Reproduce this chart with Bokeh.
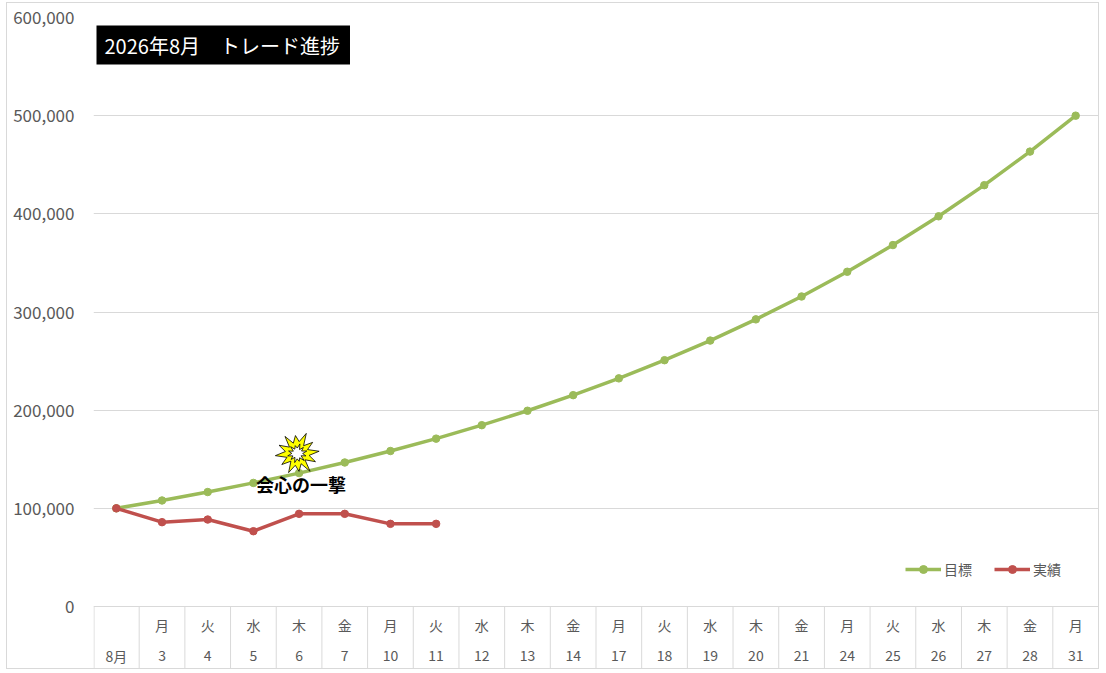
import numpy as np
from bokeh.plotting import figure
from bokeh.models import (Range1d, FixedTicker, NumeralTickFormatter,
                          Label, Legend, LegendItem, ColumnDataSource)
from bokeh.embed import file_html
from bokeh.resources import INLINE
from bokeh.core.properties import value

# ---------------- data ----------------
days = ["8月", "3", "4", "5", "6", "7", "10", "11", "12", "13", "14",
        "17", "18", "19", "20", "21", "24", "25", "26", "27", "28", "31"]
weekdays = ["", "月", "火", "水", "木", "金", "月", "火", "水", "木", "金",
            "月", "火", "水", "木", "金", "月", "火", "水", "木", "金", "月"]
target = [100000, 108000, 116600, 125900, 135900, 146700, 158400, 171000, 184700, 199400, 215300,
          232400, 250900, 270900, 292500, 315800, 341000, 368200, 397500, 429200, 463400, 500000]
actual = [100000, 85900, 88600, 76700, 94400, 94400, 84200, 84200]
y_ticks = [0, 100000, 200000, 300000, 400000, 500000, 600000]
series_names = ["目標", "実績"]
title_text = "2026年8月\u3000トレード進捗"
callout_text = "会心の一撃"
callout_day = "6"

# ---------------- style ----------------
GREEN = "#9BBB59"
RED = "#C0504D"
GRID = "#D9D9D9"
TXT = "#595959"
JP = "Noto Sans CJK JP"
FW = 1005            # frame width (px)
PLOT_H = 589         # px from 0 to 600,000
TABLE_H = 62         # px of the category table under the 0 line
YMAX = 600000
UNIT = YMAX / PLOT_H  # data units per pixel (y)
y_bottom = -TABLE_H * UNIT

# category slots: each day occupies one unit, centred at i + 0.5
centers = [i + 0.5 for i in range(len(days))]
edges = list(range(len(days)))

p = figure(frame_width=FW, frame_height=PLOT_H + TABLE_H,
           x_range=Range1d(0, len(days)),
           y_range=Range1d(y_bottom, YMAX),
           x_axis_location=None,
           min_border_left=86, min_border_right=0, min_border_top=14, min_border_bottom=0,
           output_backend="svg", toolbar_location=None)
p.outline_line_color = None
p.background_fill_color = "white"
p.border_fill_color = "white"
p.styles = {"border": "1px solid #D9D9D9", "margin": "2px 0 0 6px"}

# y axis
p.yaxis.ticker = FixedTicker(ticks=y_ticks)
p.yaxis.formatter = NumeralTickFormatter(format="0,0")
p.yaxis.axis_line_color = None
p.yaxis.major_tick_out = 0
p.yaxis.major_tick_in = 0
p.yaxis.minor_tick_out = 0
p.yaxis.minor_tick_in = 0
p.yaxis.major_tick_line_color = None
p.yaxis.minor_tick_line_color = None
p.yaxis.major_label_standoff = 19
p.yaxis.major_label_text_font = JP
p.yaxis.major_label_text_font_size = "17px"
p.yaxis.major_label_text_color = TXT
p.ygrid.ticker = FixedTicker(ticks=y_ticks)
p.ygrid.grid_line_color = GRID
p.xgrid.grid_line_color = None

# category table below the 0 line
px_x = len(days) / FW
sep_x = [e + (0.5 * px_x if e == 0 else 0) for e in edges]
p.segment(x0=sep_x, y0=[y_bottom] * len(sep_x), x1=sep_x, y1=[0] * len(sep_x),
          line_color=GRID, line_width=1)
p.text(x=centers, y=[-18 * UNIT] * len(days), text=weekdays,
       text_font=value(JP), text_font_size="14px", text_color=TXT,
       text_align="center", text_baseline="middle")
p.text(x=centers, y=[-49 * UNIT] * len(days), text=days,
       text_font=value(JP), text_font_size="14px", text_color=TXT,
       text_align="center", text_baseline="middle")

# series
src_t = ColumnDataSource(dict(x=centers, y=target, day=days))
src_a = ColumnDataSource(dict(x=centers[:len(actual)], y=actual, day=days[:len(actual)]))
gl = p.line("x", "y", source=src_t, color=GREEN, line_width=3.5, line_join="round")
gs = p.scatter("x", "y", source=src_t, color=GREEN, size=7.5)
rl = p.line("x", "y", source=src_a, color=RED, line_width=3.5, line_join="round")
rs = p.scatter("x", "y", source=src_a, color=RED, size=7.5)

# callout burst
cx = centers[days.index(callout_day)] - 0.04
cy = 155900
n = 12
ang = np.linspace(0, 2 * np.pi, 2 * n, endpoint=False) + 0.1
r_out = np.array([22, 11, 19, 10, 22, 12, 18, 11, 21, 10, 20, 12,
                  22, 11, 19, 10, 21, 12, 18, 11, 22, 10, 20, 12])
r_in = r_out * 0.45
p.patch(cx + r_out * np.cos(ang) * px_x, cy + r_out * np.sin(ang) * UNIT,
        fill_color="#FFFF00", line_color="black", line_width=0.8)
p.patch(cx + r_in * np.cos(ang + 0.15) * px_x, cy + r_in * np.sin(ang + 0.15) * UNIT,
        fill_color="white", line_color="black", line_width=0.8)
p.text(x=[cx + 0.08], y=[122200 + 3 * UNIT], text=[callout_text],
       text_font=value(JP), text_font_style="bold", text_font_size="18px",
       text_color="black", text_align="center", text_baseline="middle")

# title box
p.add_layout(Label(x=3, y=PLOT_H + TABLE_H - 8, x_units="screen", y_units="screen",
                   text=title_text, text_color="white", text_font=JP, text_font_size="20px",
                   text_align="left", text_baseline="top",
                   background_fill_color="black",
                   padding=dict(left=8, right=10, top=5, bottom=5)))

legend = Legend(items=[LegendItem(label=series_names[0], renderers=[gl, gs]),
                       LegendItem(label=series_names[1], renderers=[rl, rs])],
                location=(812, TABLE_H + 27), orientation="horizontal",
                border_line_color=None, background_fill_alpha=0,
                padding=0, margin=0, spacing=22, glyph_width=36, glyph_height=20,
                label_height=20, label_standoff=3,
                label_text_font=JP, label_text_font_size="14px", label_text_color=TXT)
p.add_layout(legend)

open("out.html", "w").write(file_html(p, INLINE))
